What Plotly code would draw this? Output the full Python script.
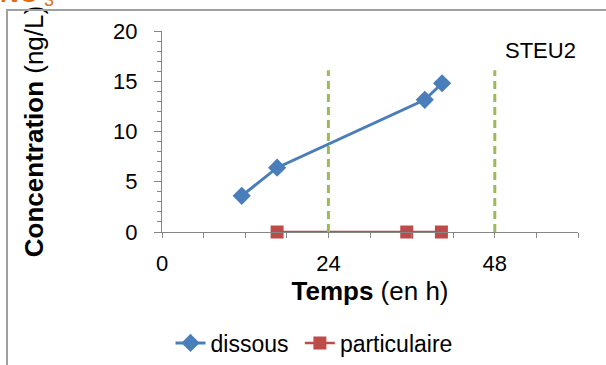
import plotly.graph_objects as go

# dissolved / particulate concentrations vs. time (h)
DISSOUS_T = [11.5, 16.6, 37.9, 40.4]
DISSOUS_C = [3.6, 6.4, 13.15, 14.8]
PART_T = [16.6, 35.3, 40.3]
PART_C = [0, 0, 0]
DAY_MARKS = [24, 48]
X_TICKS = [0, 24, 48]

W, H = 606, 365
L, R, T, B = 162, 28, 31, 133
PW, PH = W - L - R, H - T - B


def px(x):
    return (x - L) / PW


def py(y):
    return (H - B - y) / PH


FONT = "Liberation Sans, Arial, sans-serif"
FS = 22

fig = go.Figure()
fig.add_trace(go.Scatter(
    x=DISSOUS_T, y=DISSOUS_C, name="dissous ", mode="lines+markers",
    line=dict(color="#4A7EBB", width=3),
    marker=dict(symbol="diamond", size=14, color="#4A7EBB"),
))
fig.add_trace(go.Scatter(
    x=PART_T, y=PART_C, name="particulaire", mode="lines+markers",
    line=dict(color="#BE4B48", width=2.5),
    marker=dict(symbol="square", size=13, color="#BE4B48"),
    cliponaxis=False,
))

for d in DAY_MARKS:
    fig.add_shape(type="line", x0=d, x1=d, y0=0, y1=16.1, xref="x", yref="y",
                  line=dict(color="#9BBB59", width=3, dash="8px,5px"), layer="above")

# chart frame (left and top edges are the only visible ones)
frame = dict(color="#A0A0A0", width=2)
fig.add_shape(type="line", xref="paper", yref="paper",
              x0=px(7), x1=px(606), y0=py(10), y1=py(10), line=frame, layer="above")
fig.add_shape(type="line", xref="paper", yref="paper",
              x0=px(7), x1=px(7), y0=py(10), y1=py(365), line=frame, layer="above")
# same frame drawn as a bordered empty box, in case the shape edge is hidden
fig.add_annotation(text=" ", x=px(6), y=py(9), xref="paper", yref="paper",
                   xanchor="left", yanchor="top", showarrow=False,
                   width=640, height=400, borderpad=0,
                   bordercolor="#A0A0A0", borderwidth=2)

fig.add_annotation(text="STEU2", x=60, y=18.1, xref="x", yref="y",
                   xanchor="right", yanchor="middle", showarrow=False,
                   font=dict(size=FS, color="black", family=FONT))
# page title, mostly cut off by the top edge
fig.add_annotation(text="<b>NO</b>", x=px(-2), y=py(10), xref="paper", yref="paper",
                   xanchor="left", yanchor="bottom", showarrow=False,
                   font=dict(size=26, color="#E46C0A", family=FONT))
fig.add_annotation(text="3", x=px(42), y=py(12), xref="paper", yref="paper",
                   xanchor="left", yanchor="bottom", showarrow=False,
                   font=dict(size=18, color="#E46C0A", family=FONT))

fig.update_layout(
    width=W, height=H,
    margin=dict(l=L, r=R, t=T, b=B, autoexpand=False),
    plot_bgcolor="white", paper_bgcolor="white",
    font=dict(family=FONT, size=FS, color="black"),
    xaxis=dict(
        range=[0, 60], tickvals=X_TICKS, showgrid=False, zeroline=False,
        showline=True, linecolor="#868686", linewidth=1,
        ticks="outside", ticklen=5, tickcolor="#868686",
        minor=dict(dtick=6, ticks="outside", ticklen=5, tickcolor="#868686"),
        ticklabelstandoff=7, automargin=False,
        title=dict(text="<b>Temps</b> (en h)", standoff=6),
    ),
    yaxis=dict(
        range=[0, 20], dtick=5, showgrid=False, zeroline=False,
        showline=True, linecolor="#868686", linewidth=1,
        ticks="outside", ticklen=7, tickcolor="#868686",
        minor=dict(dtick=1, ticks="outside", ticklen=4, tickcolor="#868686"),
        ticklabelstandoff=12, automargin=False,
        title=dict(text="<b>Concentration</b> (ng/L)", standoff=62),
    ),
    showlegend=True,
    legend=dict(orientation="h", x=px(314), xanchor="center", y=py(343), yanchor="middle",
                font=dict(size=23), itemwidth=30, tracegroupgap=0, bgcolor="rgba(0,0,0,0)"),
)

fig.write_html("out.html", config={"displayModeBar": False},
               post_script="document.body.style.margin='0';")
